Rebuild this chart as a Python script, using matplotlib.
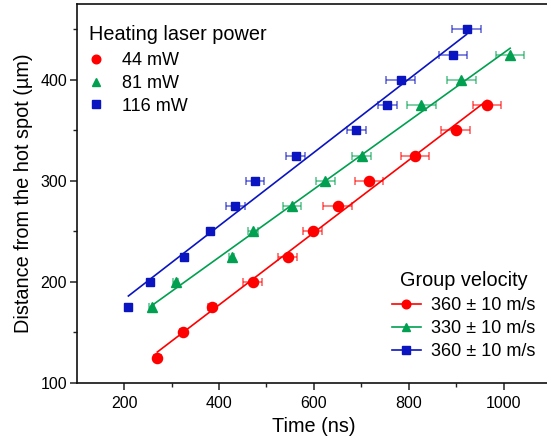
import numpy as np
import matplotlib
matplotlib.use("Agg")
import matplotlib.pyplot as plt
from matplotlib.lines import Line2D

plt.rcParams['font.family'] = ['Liberation Sans', 'DejaVu Sans']

# distance (um) vs arrival time (ns) for each heating power
red_y = [125, 150, 175, 200, 225, 250, 275, 300, 325, 350, 375]
red_x = [270, 325, 385, 471, 545, 598, 650, 716, 813, 899, 965]
red_err = [8, 8, 8, 20, 20, 20, 30, 30, 30, 30, 30]

green_y = [175, 200, 225, 250, 275, 300, 325, 375, 400, 425]
green_x = [258, 309, 427, 472, 554, 624, 701, 827, 911, 1014]
green_err = [5, 5, 5, 10, 20, 20, 20, 30, 30, 30]

blue_y = [175, 200, 225, 250, 275, 300, 325, 350, 375, 400, 425, 450]
blue_x = [209, 255, 327, 382, 434, 476, 562, 689, 755, 783, 893, 922]
blue_err = [5, 5, 5, 5, 20, 20, 20, 20, 20, 30, 30, 30]

powers = ['44 mW', '81 mW', '116 mW']
velocities = ['360 ± 10 m/s', '330 ± 10 m/s', '360 ± 10 m/s']

colors = ['#ff0000', '#00a050', '#0a14c0']
markers = ['o', '^', 's']
sizes = [7.3, 7.3, 6.3]

fig = plt.figure(figsize=(5.47, 4.43), dpi=100)
ax = fig.add_axes([0.1402, 0.1354, 0.867, 0.8556])

series = [(red_x, red_y, red_err), (green_x, green_y, green_err),
          (blue_x, blue_y, blue_err)]

for (xs, ys, es), c, m, s in zip(series, colors, markers, sizes):
    xs = np.array(xs, float)
    ys = np.array(ys, float)
    # linear fit of distance vs time -> group velocity
    k, b = np.polyfit(xs, ys, 1)
    xf = np.array([xs.min(), xs.max()])
    ax.plot(xf, k * xf + b, color=c, lw=1.2, zorder=2)
    ax.errorbar(xs, ys, xerr=es, fmt='none', ecolor=c, elinewidth=1.1,
                capsize=3.2, capthick=1.1, alpha=0.65, zorder=3)
    ax.plot(xs, ys, ls='none', marker=m, ms=s, color=c, mec=c, zorder=4)

ax.set_xlim(100, 1100)
ax.set_ylim(100, 475)
ax.set_xticks([200, 400, 600, 800, 1000])
ax.set_xticks([300, 500, 700, 900], minor=True)
ax.set_yticks([100, 200, 300, 400])
ax.set_yticks([150, 250, 350, 450], minor=True)
ax.tick_params(which='major', direction='out', length=5, width=1.1,
               labelsize=11.5, colors='#222222', labelcolor='black')
ax.tick_params(which='minor', direction='out', length=3, width=1.0,
               colors='#222222')
ax.tick_params(axis='y', pad=2)
ax.tick_params(axis='x', pad=4)
for sp in ax.spines.values():
    sp.set_linewidth(1.2)
    sp.set_color('#111111')

ax.set_xlabel('Time (ns)', fontsize=14.3, labelpad=5)
ax.set_ylabel('Distance from the hot spot (µm)', fontsize=14.3, labelpad=5)

h1 = [Line2D([], [], ls='none', marker=m, ms=s * 0.85, color=c)
      for c, m, s in zip(colors, markers, sizes)]
leg1 = ax.legend(h1, powers, title='Heating laser power', loc='upper left',
                 bbox_to_anchor=(-0.005, 0.983), frameon=False, fontsize=13,
                 title_fontsize=14.3, handlelength=0.8, handletextpad=1.05,
                 labelspacing=0.32, borderaxespad=0.4)
leg1._legend_box.align = 'left'
leg1._legend_box.sep = 6
ax.add_artist(leg1)

h2 = [Line2D([], [], lw=1.2, marker=m, ms=s * 0.85, color=c)
      for c, m, s in zip(colors, markers, sizes)]
leg2 = ax.legend(h2, velocities, title='Group velocity', loc='lower left',
                 bbox_to_anchor=(0.63, 0.018), frameon=False, fontsize=13,
                 title_fontsize=14.3, handlelength=1.6, handletextpad=0.55,
                 labelspacing=0.32)
leg2._legend_box.sep = 5

fig.savefig('out.png', dpi=100)
